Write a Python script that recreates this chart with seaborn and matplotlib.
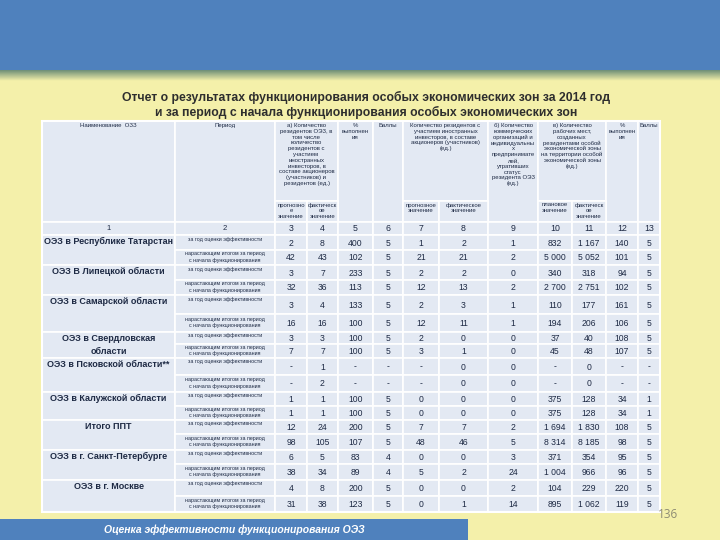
import matplotlib
matplotlib.use("Agg")
import matplotlib.pyplot as plt
import numpy as np
import seaborn as sns
from matplotlib import font_manager
from matplotlib.patches import Rectangle

# ---- data -------------------------------------------------------------
title_lines = [
    "Отчет о результатах функционирования особых экономических зон за 2014 год",
    "и за период с начала функционирования особых экономических зон",
]
footer_text = "Оценка эффективности функционирования ОЭЗ"
page_number = "136"

regions = [
    "ОЭЗ в Республике Татарстан",
    "ОЭЗ В Липецкой области",
    "ОЭЗ в Самарской области",
    "ОЭЗ в Свердловская\nобласти",
    "ОЭЗ в Псковской области**",
    "ОЭЗ в Калужской области",
    "Итого ППТ",
    "ОЭЗ в г. Санкт-Петербурге",
    "ОЭЗ в г. Москве",
]
periods = [
    "за год оценки эффективности",
    "нарастающим итогом за период\nс начала функционирования",
]

forecast_res = [2, 42, 3, 32, 3, 16, 3, 7, None, None, 1, 1, 12, 98, 6, 38, 4, 31]
actual_res = [8, 43, 7, 36, 4, 16, 3, 7, 1, 2, 1, 1, 24, 105, 5, 34, 8, 38]
pct_res = [400, 102, 233, 113, 133, 100, 100, 100, None, None, 100, 100, 200, 107, 83, 89, 200, 123]
score_res = [5, 5, 5, 5, 5, 5, 5, 5, None, None, 5, 5, 5, 5, 4, 4, 5, 5]
forecast_foreign = [1, 21, 2, 12, 2, 12, 2, 3, None, None, 0, 0, 7, 48, 0, 5, 0, 0]
actual_foreign = [2, 21, 2, 13, 3, 11, 0, 1, 0, 0, 0, 0, 7, 46, 0, 2, 0, 1]
lost_status = [1, 2, 0, 2, 1, 1, 0, 0, 0, 0, 0, 0, 2, 5, 3, 24, 2, 14]
jobs_plan = [832, 5000, 340, 2700, 110, 194, 37, 45, None, None, 375, 375, 1694, 8314, 371, 1004, 104, 895]
jobs_actual = [1167, 5052, 318, 2751, 177, 206, 40, 48, 0, 0, 128, 128, 1830, 8185, 354, 966, 229, 1062]
pct_jobs = [140, 101, 94, 102, 161, 106, 108, 107, None, None, 34, 34, 108, 98, 95, 96, 220, 119]
score_jobs = [5, 5, 5, 5, 5, 5, 5, 5, None, None, 1, 1, 5, 5, 5, 5, 5, 5]

header_main = {
    0: "Наименование  ОЗЗ",
    1: "Период",
    (2, 3): "а) Количество\nрезидентов ОЭЗ, в\nтом числе\nколичество\nрезидентов с\nучастием\nиностранных\nинвесторов, в\nсоставе акционеров\n(участников) и\nрезидентов (ед.)",
    4: "%\nвыполнен\nия",
    5: "Баллы",
    (6, 7): "Количество резидентов с\nучастием иностранных\nинвесторов, в составе\nакционеров (участников)\n(ед.)",
    8: "б) Количество\nкоммерческих\nорганизаций и\nиндивидуальны\nх\nпредпринимате\nлей,\nутративших\nстатус\nрезидента ОЭЗ\n(ед.)",
    (9, 10): "в) Количество\nрабочих мест,\nсозданных\nрезидентами особой\nэкономической зоны\nна территории особой\nэкономической зоны\n(ед.)",
    11: "%\nвыполнен\nия",
    12: "Баллы",
}
header_sub = {
    2: "прогнозно\nе\nзначение",
    3: "фактическ\nое\nзначение",
    6: "прогнозное\nзначение",
    7: "фактическое\nзначение",
    9: "плановое\nзначение",
    10: "фактическ\nое\nзначение",
}

# ---- layout -----------------------------------------------------------
col_edges = [42, 175, 275, 307, 338, 373, 403, 439, 488, 538, 572, 606, 638, 660]
head_top, head_split, head_bottom, num_bottom = 121, 201, 222, 235
row_edges = [235, 250, 265, 280, 295, 314, 332, 344, 358, 375, 392,
             406, 420, 434, 450, 464, 480, 496, 512]

bg = "#F4F0AA"
band = "#4F81BD"
cell = "#E3E9F3"
ink = "#1E2A44"

sns.set_theme(style="white")
names = {f.name for f in font_manager.fontManager.ttflist}
narrow = "Liberation Sans Narrow" if "Liberation Sans Narrow" in names else "Liberation Sans"
plt.rcParams["font.family"] = [narrow, "DejaVu Sans"]

fig = plt.figure(figsize=(7.2, 5.4), dpi=100)
fig.patch.set_facecolor(bg)
ax = fig.add_axes([0, 0, 1, 1])
ax.set_xlim(0, 720)
ax.set_ylim(540, 0)
ax.axis("off")
ax.set_facecolor(bg)

# top band and its shadow
ax.add_patch(Rectangle((0, 0), 720, 70, color=band, lw=0))
shadow = np.linspace(0, 1, 20)[:, None, None]
c0 = np.array(matplotlib.colors.to_rgb("#6F8F78"))
c1 = np.array(matplotlib.colors.to_rgb(bg))
grad = c0 * (1 - shadow) + c1 * shadow
grad = np.repeat(grad, 2, axis=1)
ax.imshow(grad, extent=(0, 720, 81, 70), aspect="auto", interpolation="bilinear")

# title
ax.text(366, 97, title_lines[0], ha="center", va="center", fontsize=8.8,
        fontweight="bold", color="#2E2E2E")
ax.text(366, 112, title_lines[1], ha="center", va="center", fontsize=8.8,
        fontweight="bold", color="#2E2E2E")


def box(x0, x1, y0, y1):
    ax.add_patch(Rectangle((x0, y0), x1 - x0, y1 - y0, facecolor=cell,
                           edgecolor="white", lw=1.2))


def fmt(v):
    if v is None:
        return "-"
    return f"{v:,}".replace(",", " ")


# header
for key, txt in header_main.items():
    a, b = (key, key) if isinstance(key, int) else key
    x0, x1 = col_edges[a], col_edges[b + 1]
    y1 = head_split if isinstance(key, tuple) else head_bottom
    box(x0, x1, head_top, y1)
    ax.text((x0 + x1) / 2, head_top + 2, txt, ha="center", va="top",
            fontsize=4.3, linespacing=1.2, color=ink)
for c, txt in header_sub.items():
    x0, x1 = col_edges[c], col_edges[c + 1]
    box(x0, x1, head_split, head_bottom)
    ax.text((x0 + x1) / 2, head_split + 1.5, txt, ha="center", va="top",
            fontsize=4.3, linespacing=1.2, color=ink)

# number row
for c in range(13):
    x0, x1 = col_edges[c], col_edges[c + 1]
    box(x0, x1, head_bottom, num_bottom)
    ax.text((x0 + x1) / 2, (head_bottom + num_bottom) / 2, str(c + 1),
            ha="center", va="center", fontsize=5.5 if c < 2 else 6.3, color=ink)

# body
columns = [forecast_res, actual_res, pct_res, score_res, forecast_foreign,
           actual_foreign, lost_status, jobs_plan, jobs_actual, pct_jobs, score_jobs]
for i, name in enumerate(regions):
    y0, y1 = row_edges[2 * i], row_edges[2 * i + 2]
    box(col_edges[0], col_edges[1], y0, y1)
    ax.text((col_edges[0] + col_edges[1]) / 2, y0 + 2, name, ha="center", va="top",
            fontsize=6.5, fontweight="bold", color=ink, linespacing=1.5,
            family=["Liberation Sans", "DejaVu Sans"])

for r in range(len(row_edges) - 1):
    y0, y1 = row_edges[r], row_edges[r + 1]
    x0, x1 = col_edges[1], col_edges[2]
    box(x0, x1, y0, y1)
    if r % 2 == 0:
        ax.text((x0 + x1) / 2, y0 + 1.5, periods[0], ha="center", va="top",
                fontsize=3.8, color=ink)
    else:
        ax.text((x0 + x1) / 2, (y0 + y1) / 2 - 0.5, periods[1], ha="center",
                va="center", fontsize=3.8, color=ink, linespacing=1.3)
    for c, vals in enumerate(columns, start=2):
        x0, x1 = col_edges[c], col_edges[c + 1]
        box(x0, x1, y0, y1)
        ax.text((x0 + x1) / 2, (y0 + y1) / 2 + 0.5, fmt(vals[r]), ha="center",
                va="center", fontsize=6.2, color=ink)

# outer border
ax.add_patch(Rectangle((col_edges[0], head_top), col_edges[-1] - col_edges[0],
                       row_edges[-1] - head_top, fill=False, edgecolor="white", lw=1.5))

# footer
ax.add_patch(Rectangle((0, 519), 468, 21, color=band, lw=0))
ax.text(234, 529.5, footer_text, ha="center", va="center", fontsize=7.5,
        fontweight="bold", fontstyle="italic", color="white",
        family=["Liberation Sans", "DejaVu Sans"])
ax.text(668, 515, page_number, ha="center", va="center", fontsize=8.5,
        color="#8E8C74", family=["Open Sans", "DejaVu Sans"])

fig.savefig("out.png", dpi=100, facecolor=bg)
